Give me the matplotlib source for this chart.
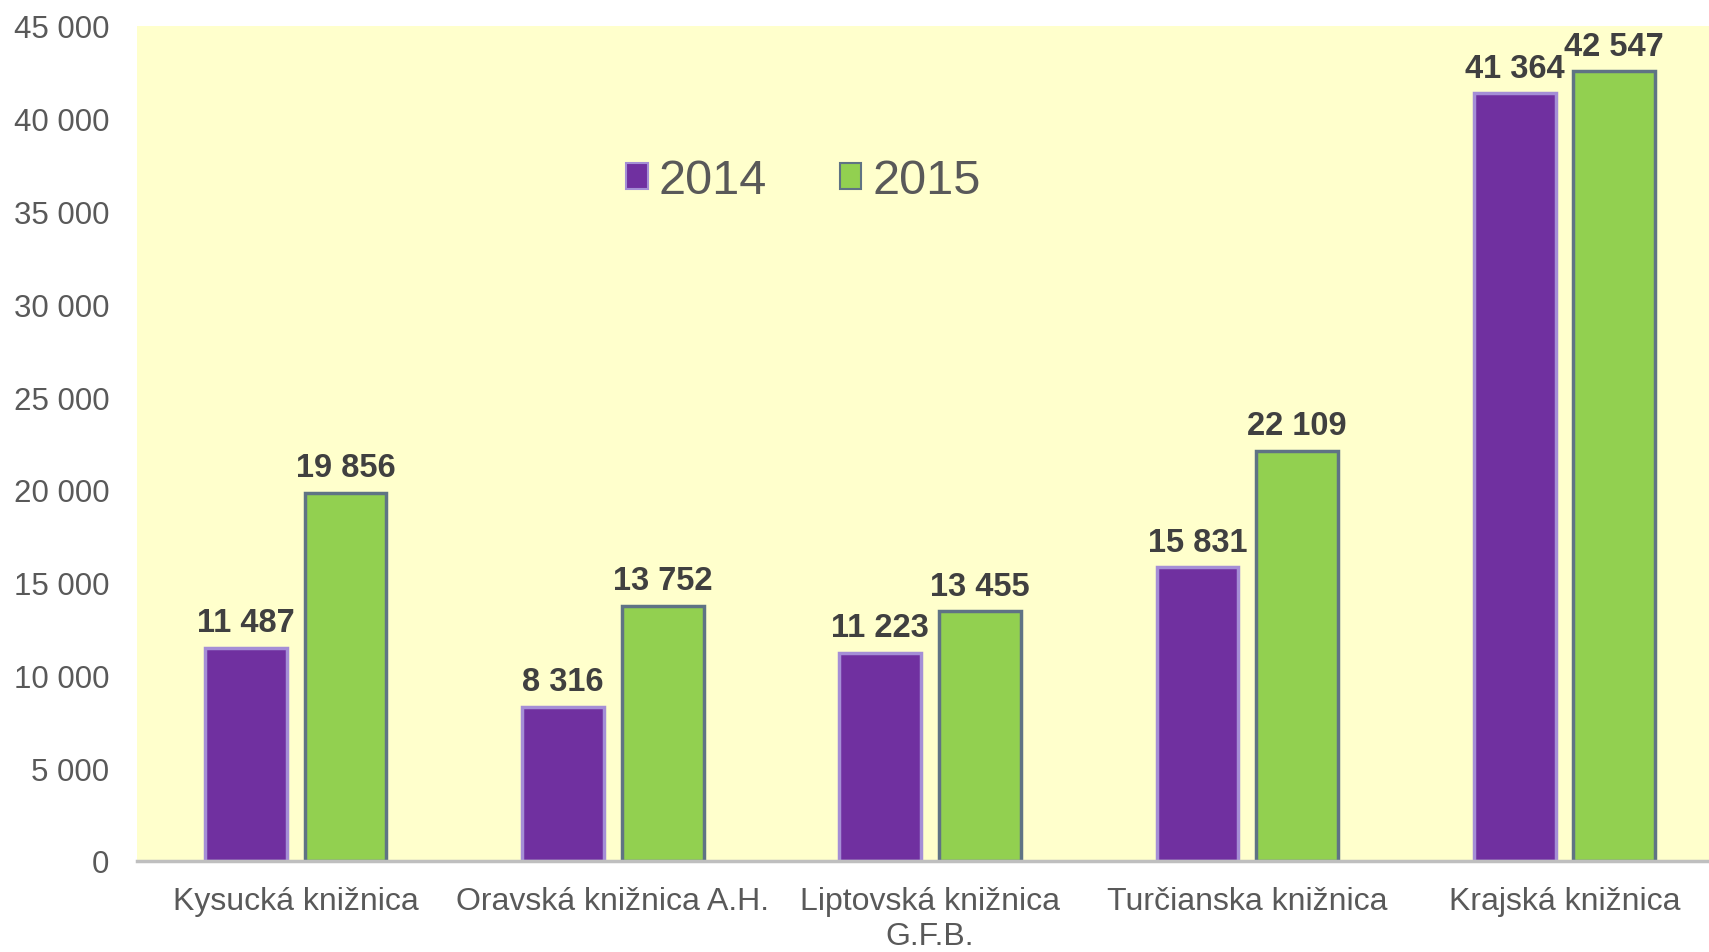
import matplotlib.pyplot as plt
import numpy as np
from matplotlib.patches import Patch

# údaje
kniznice = ['Kysucká knižnica', 'Oravská knižnica A.H.', 'Liptovská knižnica\nG.F.B.',
            'Turčianska knižnica', 'Krajská knižnica']
roky = ['2014', '2015']
hodnoty_2014 = [11487, 8316, 11223, 15831, 41364]
hodnoty_2015 = [19856, 13752, 13455, 22109, 42547]

farby = ['#7030A0', '#92D050']
okraje = ['#A58ED6', '#5F7384']

plt.rcParams['font.family'] = ['Liberation Sans', 'DejaVu Sans']

fig = plt.figure(figsize=(17.09, 9.53), dpi=100)
# os presahuje pravý okraj obrázku (ako v origináli)
ax = fig.add_axes([0.0802, 0.0955, 0.928, 0.8762])
ax.set_facecolor('#FFFFCC')

x = np.arange(len(kniznice))
w = 0.258
off = 0.157

for i, (vals, c, e) in enumerate(zip([hodnoty_2014, hodnoty_2015], farby, okraje)):
    pos = x + (off if i else -off)
    bars = ax.bar(pos, vals, w, color=c, edgecolor=e, linewidth=2.5, zorder=2)
    for b, v in zip(bars, vals):
        txt = f'{v:,}'.replace(',', ' ')
        ax.annotate(txt, (b.get_x() + b.get_width() / 2, v), xytext=(0, 7),
                    textcoords='offset points', ha='center', va='bottom',
                    fontsize=23.5, fontweight='bold', color='#404040')

ax.set_xlim(-0.5, len(kniznice) - 0.5)
ax.set_ylim(0, 45000)
ax.set_yticks(np.arange(0, 45001, 5000))
ax.set_yticklabels([f'{t:,}'.replace(',', ' ') for t in range(0, 45001, 5000)])
ax.set_xticks(x)
ax.set_xticklabels(kniznice)
ax.tick_params(axis='y', length=0, pad=20, labelsize=22.5, labelcolor='#595959')
ax.tick_params(axis='x', length=0, pad=18, labelsize=23, labelcolor='#595959')

for s in ['top', 'right', 'left']:
    ax.spines[s].set_visible(False)
ax.spines['bottom'].set_color('#BFBFBF')
ax.spines['bottom'].set_linewidth(2.5)

handles = [Patch(facecolor=c, edgecolor=e, linewidth=1.5) for c, e in zip(farby, okraje)]
leg = ax.legend(handles, roky, loc='center', bbox_to_anchor=(0.42, 0.815), ncol=2,
                frameon=False, fontsize=35, handlelength=0.45, handleheight=0.45,
                handletextpad=0.22, columnspacing=1.5)
for t in leg.get_texts():
    t.set_color('#595959')

fig.savefig('out.png', dpi=100)
